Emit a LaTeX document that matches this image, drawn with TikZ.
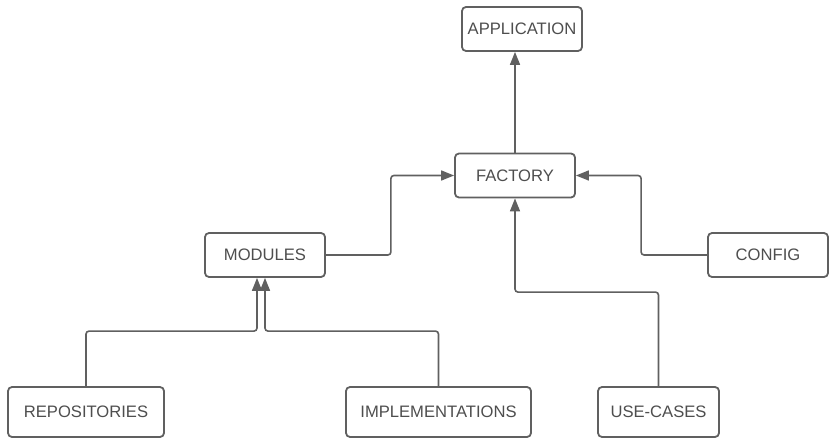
\documentclass[tikz,border=0pt]{standalone}
\usepackage{fontspec}
\setmainfont{Liberation Sans}
\usetikzlibrary{arrows.meta}

\definecolor{linegray}{RGB}{96,96,96}
\definecolor{textgray}{RGB}{78,78,78}

\tikzset{
  every box/.style={draw=linegray, line width=1.8pt, rounded corners=4pt,
    fill=white, text=textgray, minimum height=44pt, inner sep=0pt,
    font=\fontsize{16.6}{19}\selectfont},
  link/.style={->, draw=linegray, line width=1.6pt, rounded corners=3pt}
}

\begin{document}
\begin{tikzpicture}[x=1pt, y=-1pt, >={Triangle[length=13pt,width=10pt]}]

\useasboundingbox (0,0) rectangle (835,446);

% Create the upper nodes
\foreach \n/\t/\x/\y/\w in {app/APPLICATION/522/29/120, factory/FACTORY/515/175.5/120,
    modules/MODULES/265/255/120, config/CONFIG/768/255/120}
  \node [every box, minimum width=\w pt] (\n) at (\x,\y) {\t};

% Create the bottom nodes
\foreach \n/\t/\x/\w in {repos/REPOSITORIES/86/156, impl/IMPLEMENTATIONS/438.5/185,
    usecases/USE-CASES/658.5/121}
  \node [every box, minimum width=\w pt, minimum height=50pt] (\n) at (\x,412) {\t};

% Connect factory to application
\draw [link] (factory.north) -- (factory.north |- app.south);

% Connect modules and config to factory
\draw [link] (modules.east) -- ++(65,0) |- (factory.west);
\draw [link] (config.west) -- ++(-66,0) |- (factory.east);
\draw [link] (usecases.north) -- ++(0,-94) -| (factory.south);

% Connect repositories and implementations to modules
\draw [link] (repos.north) -- ++(0,-55) -| ([xshift=-8pt]modules.south);
\draw [link] (impl.north) -- ++(0,-55) -| (modules.south);

\end{tikzpicture}
\end{document}
